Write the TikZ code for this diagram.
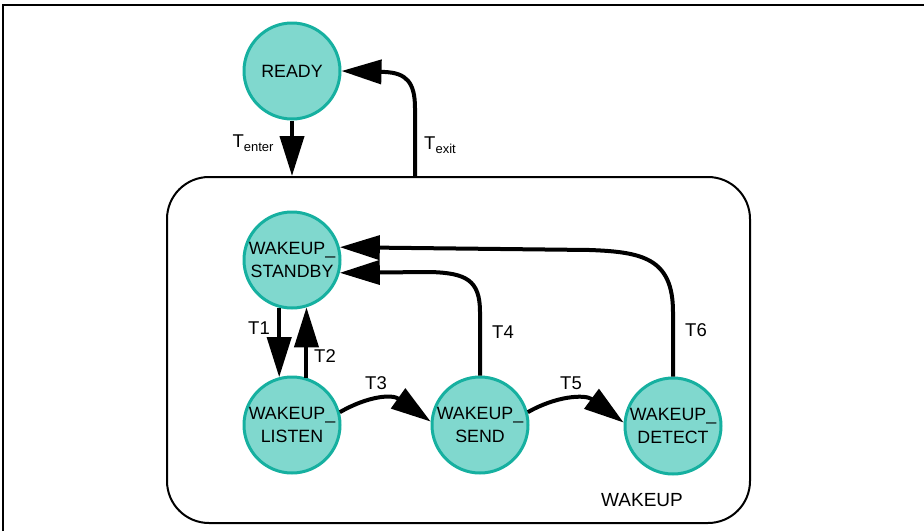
\documentclass[tikz,border=0pt]{standalone}
\usepackage{fontspec}
\setmainfont{Liberation Sans}
\usetikzlibrary{arrows.meta}
\definecolor{stfill}{RGB}{128,216,206}
\definecolor{stline}{RGB}{22,176,160}
\tikzset{
  state/.style={circle, draw=stline, fill=stfill, line width=3pt, minimum size=96pt, inner sep=0pt, align=center, font=\fontsize{17.8}{23}\selectfont},
  trans/.style={line width=4pt, -{Triangle[length=40pt,width=24pt]}},
  lbl/.style={font=\fontsize{18.5}{20}\selectfont, inner sep=0pt},
}
\newcommand{\subtxt}[1]{\raisebox{-0.35ex}{\fontsize{13}{14}\selectfont #1}}
\begin{document}
\begin{tikzpicture}[x=1pt,y=-1pt]
\useasboundingbox (0,0) rectangle (924,531);
% outer frame (partial)
\draw[line width=1.5pt] (3,531) -- (3,5) -- (924,5);
% composite state
\node[draw, line width=2pt, rounded corners=42pt, minimum width=583pt, minimum height=346pt, inner sep=0pt] (wakeup) at (458.5,350) {};
\node[lbl, font=\fontsize{19}{20}\selectfont] (wlbl) at (642,500) {WAKEUP};
% states
\node[state] (R) at (292,71) {READY};
\node[state] (SB) at (292,260) {WAKEUP\_\\STANDBY};
\node[state] (LI) at (292,425) {WAKEUP\_\\LISTEN};
\node[state] (SE) at (480,425) {WAKEUP\_\\SEND};
\node[state] (DE) at (673,426) {WAKEUP\_\\DETECT};
\coordinate (ex) at (415,177);
% transitions
\draw[trans] (R.south) -- (R.south |- wakeup.north);
\draw[trans] (ex) -- (415,108) .. controls (415,82) and (406,73) .. (385,72) -- (R.east);
\draw[trans] (SB.255) -- (LI.105);
\draw[trans] (LI.73) -- (SB.287);
\draw[trans] (LI.15) .. controls (368,396) and (392,394) .. (SE.176);
\draw[trans] (SE.15) .. controls (556,396) and (585,394) .. (DE.176);
\draw[trans] (SE.north) -- (480,312) .. controls (480,280) and (466,273) .. (430,272) -- (SB.-15);
\draw[trans] (DE.north) -- (673,312) .. controls (673,258) and (642,252) .. (590,250) -- (SB.15);
% labels
\node[lbl] (tenter) at (253,143) {T\subtxt{enter}};
\node[lbl] (texit) at (440,145) {T\subtxt{exit}};
\node[lbl] (t1) at (259,328) {T1};
\node[lbl] (t2) at (325,356) {T2};
\node[lbl] (t3) at (376,383) {T3};
\node[lbl] (t4) at (503,332) {T4};
\node[lbl] (t5) at (571,383) {T5};
\node[lbl] (t6) at (696,330) {T6};
\end{tikzpicture}
\end{document}
